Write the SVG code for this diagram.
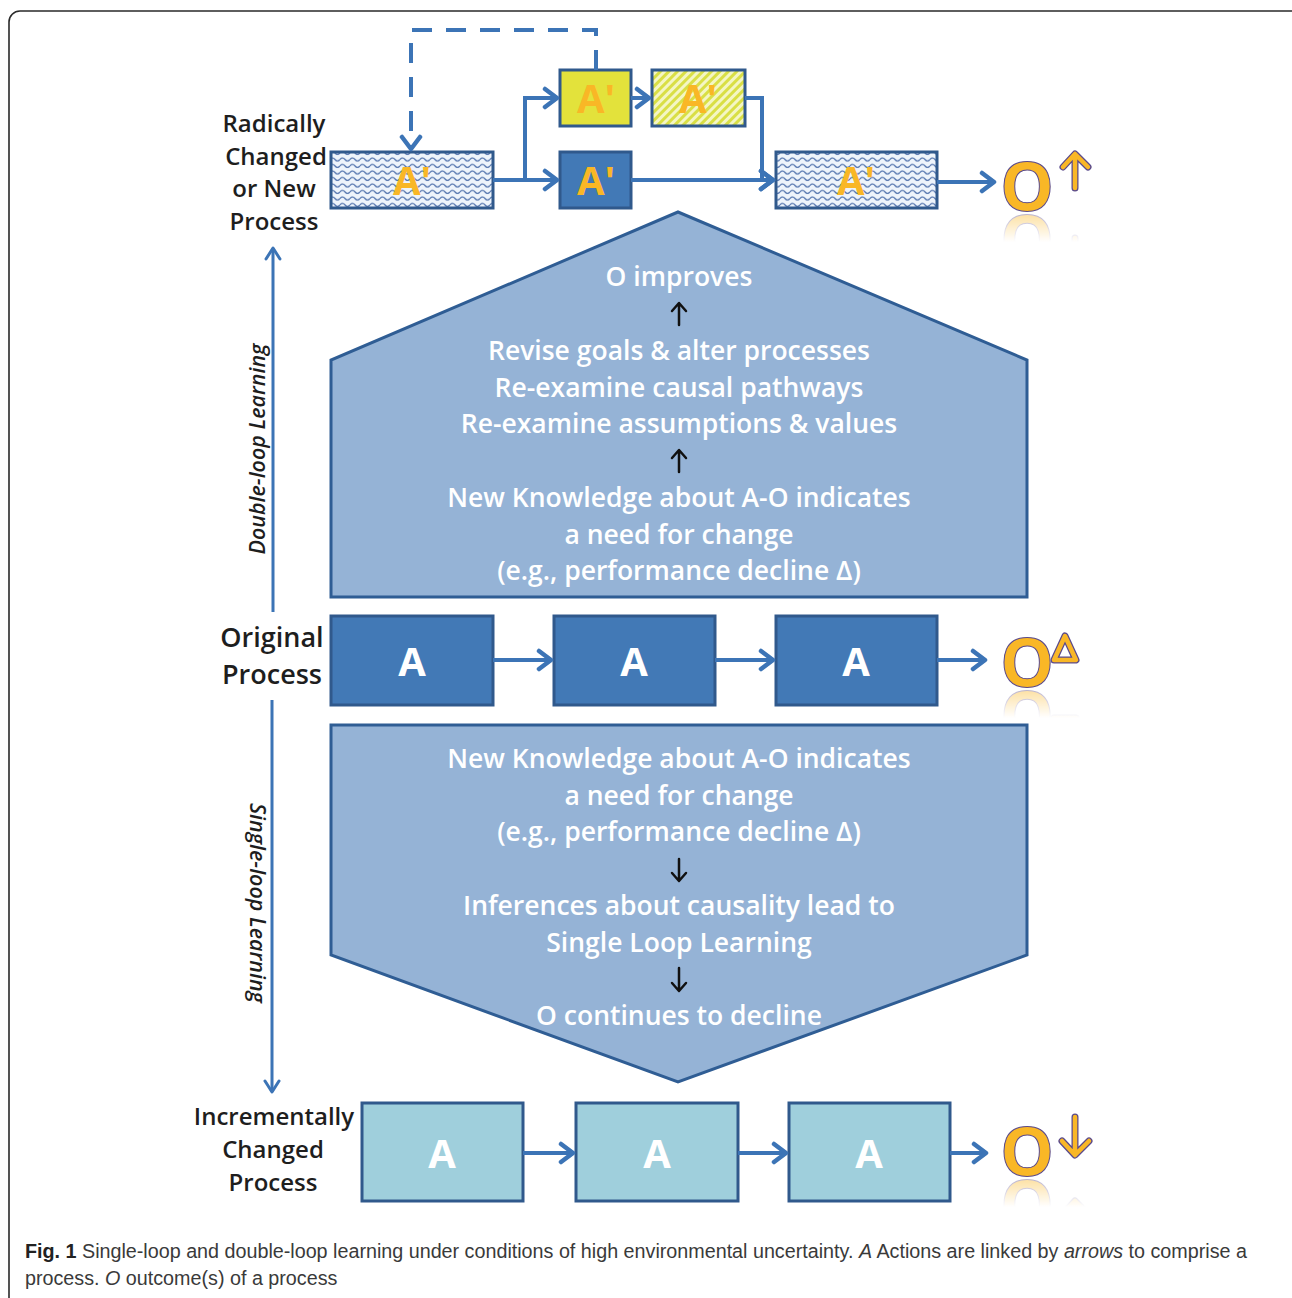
<svg xmlns="http://www.w3.org/2000/svg" width="1292" height="1298" viewBox="0 0 1292 1298">
<style>
.lbl{font-family:"Open Sans","DejaVu Sans",sans-serif;font-weight:600;fill:#1e1e1e;text-anchor:middle}
.pt{font-family:"Open Sans","DejaVu Sans",sans-serif;font-weight:600;fill:#ffffff;font-size:26.5px;text-anchor:middle}
.ax{font-family:"Open Sans","DejaVu Sans",sans-serif;font-weight:700;font-size:40px;text-anchor:middle}
.ow{fill:#ffffff}
.oy{fill:#f9b726}
.box{stroke:#30598c;stroke-width:3}
.conn{fill:none;stroke:#3c74b6;stroke-width:4}
.vl{fill:none;stroke:#3c74b6;stroke-width:3}
.blk{fill:none;stroke:#111;stroke-width:2.5;stroke-linecap:round;stroke-linejoin:round}
.bigO{font-family:"Open Sans","DejaVu Sans",sans-serif;font-weight:700;font-size:68px;fill:#f9b726;stroke:#5a4a8c;stroke-width:1;text-anchor:middle}
.symO{fill:none;stroke:#5a4a8c;stroke-width:7;stroke-linecap:round;stroke-linejoin:round}
.symI{fill:none;stroke:#f9b726;stroke-width:4.5;stroke-linecap:round;stroke-linejoin:round}
.cap{font-family:"Liberation Sans","Arial",sans-serif;font-size:21px;fill:#3a3a3a}
.rot{font-family:"Open Sans","DejaVu Sans",sans-serif;font-weight:600;font-style:italic;font-size:21.5px;fill:#1e1e1e;text-anchor:middle}
</style>
<defs>
<pattern id="wave" patternUnits="userSpaceOnUse" width="10" height="6.5">
<rect width="10" height="6.5" fill="#eef4fb"/>
<path d="M0,3.5 Q2.5,0.5 5,3.5 T10,3.5" fill="none" stroke="#4c6eaa" stroke-width="1.2"/>
</pattern>
<pattern id="hatch" patternUnits="userSpaceOnUse" width="6" height="6" patternTransform="rotate(45)">
<rect width="6" height="6" fill="#f4f6c4"/>
<rect width="3" height="6" fill="#d9df45"/>
</pattern>
<marker id="ah" markerUnits="userSpaceOnUse" markerWidth="18" markerHeight="24" viewBox="0 0 18 24" refX="16" refY="12" orient="auto">
<path d="M3,3 L15,12 L3,21" fill="none" stroke="#3c74b6" stroke-width="4.5" stroke-linecap="round" stroke-linejoin="round"/>
</marker>
<marker id="ahs" markerUnits="userSpaceOnUse" markerWidth="16" markerHeight="18" viewBox="0 0 16 18" refX="14" refY="9" orient="auto">
<path d="M3,2 L14,9 L3,16" fill="none" stroke="#3c74b6" stroke-width="3" stroke-linecap="round" stroke-linejoin="round"/>
</marker>
<linearGradient id="fade" x1="0" y1="0" x2="0" y2="1">
<stop offset="0" stop-color="#fff" stop-opacity="0.45"/>
<stop offset="1" stop-color="#fff" stop-opacity="0"/>
</linearGradient>
<mask id="m1" maskUnits="userSpaceOnUse" x="990" y="210" width="120" height="40"><rect x="990" y="212" width="120" height="30" fill="url(#fade)"/></mask>
<mask id="m2" maskUnits="userSpaceOnUse" x="990" y="686" width="120" height="40"><rect x="990" y="688" width="120" height="30" fill="url(#fade)"/></mask>
<mask id="m3" maskUnits="userSpaceOnUse" x="990" y="1175" width="120" height="40"><rect x="990" y="1177" width="120" height="30" fill="url(#fade)"/></mask>
</defs>

<rect x="9" y="11" width="1296" height="1300" rx="11" fill="#ffffff" stroke="#2a2a2a" stroke-width="1.6"/>

<!-- Left labels -->
<g id="label-radical">
<text class="lbl" font-size="24" x="274" y="132">Radically</text>
<text class="lbl" font-size="24" x="276" y="165">Changed</text>
<text class="lbl" font-size="24" x="274" y="197">or New</text>
<text class="lbl" font-size="24" x="274" y="230">Process</text>
</g>
<g id="label-original">
<text class="lbl" font-size="27" x="272" y="647">Original</text>
<text class="lbl" font-size="27" x="272" y="684">Process</text>
</g>
<g id="label-incremental">
<text class="lbl" font-size="24" x="274" y="1125">Incrementally</text>
<text class="lbl" font-size="24" x="273" y="1158">Changed</text>
<text class="lbl" font-size="24" x="273" y="1191">Process</text>
</g>
<g id="label-double">
<text class="rot" transform="translate(265,449) rotate(-90)">Double-loop Learning</text>
</g>
<g id="label-single">
<text class="rot" transform="translate(250,903) rotate(90)">Single-loop Learning</text>
</g>

<!-- Pentagons -->
<g id="double-loop-panel">
<path d="M678,212 L1027,360 L1027,597 L331,597 L331,360 Z" fill="#95b3d6" stroke="#2f5d94" stroke-width="3"/>
<text class="pt" x="679" y="286">O improves</text>
<path class="blk" d="M679,325 V304 M672,311 L679,303 L686,311"/>
<text class="pt" x="679" y="360">Revise goals &amp; alter processes</text>
<text class="pt" x="679" y="397">Re-examine causal pathways</text>
<text class="pt" x="679" y="433">Re-examine assumptions &amp; values</text>
<path class="blk" d="M679,472 V451 M672,458 L679,450 L686,458"/>
<text class="pt" x="679" y="507">New Knowledge about A-O indicates</text>
<text class="pt" x="679" y="544">a need for change</text>
<text class="pt" x="679" y="580">(e.g., performance decline Δ)</text>
</g>
<g id="single-loop-panel">
<path d="M331,725 L1027,725 L1027,955 L678,1082 L331,955 Z" fill="#95b3d6" stroke="#2f5d94" stroke-width="3"/>
<text class="pt" x="679" y="768">New Knowledge about A-O indicates</text>
<text class="pt" x="679" y="805">a need for change</text>
<text class="pt" x="679" y="841">(e.g., performance decline Δ)</text>
<path class="blk" d="M679,859 V880 M672,873 L679,881 L686,873"/>
<text class="pt" x="679" y="915">Inferences about causality lead to</text>
<text class="pt" x="679" y="952">Single Loop Learning</text>
<path class="blk" d="M679,968 V990 M672,983 L679,991 L686,983"/>
<text class="pt" x="679" y="1025">O continues to decline</text>
</g>

<!-- Top row nodes -->
<g id="r1"><rect x="331" y="152" width="162" height="56" fill="url(#wave)" class="box"/><text class="ax oy" x="412" y="195">A'</text></g>
<g id="r2"><rect x="560" y="70" width="71" height="56" fill="#e3e23b" class="box"/><text class="ax oy" x="596" y="113">A'</text></g>
<g id="r3"><rect x="652" y="70" width="93" height="56" fill="url(#hatch)" class="box"/><text class="ax oy" x="698" y="113">A'</text></g>
<g id="r4"><rect x="560" y="152" width="71" height="56" fill="#4279b6" class="box"/><text class="ax oy" x="596" y="195">A'</text></g>
<g id="r5"><rect x="776" y="152" width="161" height="56" fill="url(#wave)" class="box"/><text class="ax oy" x="856" y="195">A'</text></g>

<!-- Middle row -->
<g id="m1n"><rect x="331" y="616" width="162" height="89" fill="#4279b6" class="box"/><text class="ax ow" x="412" y="676">A</text></g>
<g id="m2n"><rect x="554" y="616" width="161" height="89" fill="#4279b6" class="box"/><text class="ax ow" x="634" y="676">A</text></g>
<g id="m3n"><rect x="776" y="616" width="161" height="89" fill="#4279b6" class="box"/><text class="ax ow" x="856" y="676">A</text></g>

<!-- Bottom row -->
<g id="b1n"><rect x="362" y="1103" width="161" height="98" fill="#9fcfdc" class="box"/><text class="ax ow" x="442" y="1168">A</text></g>
<g id="b2n"><rect x="576" y="1103" width="162" height="98" fill="#9fcfdc" class="box"/><text class="ax ow" x="657" y="1168">A</text></g>
<g id="b3n"><rect x="789" y="1103" width="161" height="98" fill="#9fcfdc" class="box"/><text class="ax ow" x="869" y="1168">A</text></g>

<!-- Outcomes -->
<g id="out-up">
<text class="bigO" x="1027" y="211">O</text>
<path class="symO" d="M1075,188 V155 M1063,167 L1075,154 L1088,167"/>
<path class="symI" d="M1075,188 V155 M1063,167 L1075,154 L1088,167"/>
</g>
<g mask="url(#m1)"><use href="#out-up" transform="translate(0,426) scale(1,-1)"/></g>
<g id="out-delta">
<text class="bigO" x="1027" y="687">O</text>
<path class="symO" d="M1065,636 L1076,660 L1054,660 Z"/>
<path class="symI" d="M1065,636 L1076,660 L1054,660 Z"/>
</g>
<g mask="url(#m2)"><use href="#out-delta" transform="translate(0,1378) scale(1,-1)"/></g>
<g id="out-down">
<text class="bigO" x="1027" y="1176">O</text>
<path class="symO" d="M1075,1117 V1154 M1062,1141 L1075,1155 L1089,1141"/>
<path class="symI" d="M1075,1117 V1154 M1062,1141 L1075,1155 L1089,1141"/>
</g>
<g mask="url(#m3)"><use href="#out-down" transform="translate(0,2356) scale(1,-1)"/></g>

<!-- Connectors -->
<g id="connectors">
<path class="conn" d="M596,70 V30 H411 V150" stroke-dasharray="20 14" marker-end="url(#ah)"/>
<path class="conn" d="M493,180 H558" marker-end="url(#ah)"/>
<path class="conn" d="M525,180 V98 H558" marker-end="url(#ah)"/>
<path class="conn" d="M631,98 H650" marker-end="url(#ah)"/>
<path class="conn" d="M745,98 H762 V180 H774" marker-end="url(#ah)"/>
<path class="conn" d="M631,180 H774" marker-end="url(#ah)"/>
<path class="conn" d="M937,182 H995" marker-end="url(#ah)"/>
<path class="conn" d="M493,660 H552" marker-end="url(#ah)"/>
<path class="conn" d="M715,660 H774" marker-end="url(#ah)"/>
<path class="conn" d="M937,660 H986" marker-end="url(#ah)"/>
<path class="conn" d="M523,1153 H574" marker-end="url(#ah)"/>
<path class="conn" d="M738,1153 H787" marker-end="url(#ah)"/>
<path class="conn" d="M950,1153 H987" marker-end="url(#ah)"/>
<path class="vl" d="M273,612 V248" marker-end="url(#ahs)"/>
<path class="vl" d="M272,700 V1092" marker-end="url(#ahs)"/>
</g>

<!-- Caption -->
<g id="caption" transform="translate(25,0) scale(0.94,1)">
<text class="cap" x="0" y="1258"><tspan font-weight="bold" fill="#222">Fig. 1</tspan> Single-loop and double-loop learning under conditions of high environmental uncertainty. <tspan font-style="italic">A</tspan> Actions are linked by <tspan font-style="italic">arrows</tspan> to comprise a</text>
<text class="cap" x="0" y="1285">process. <tspan font-style="italic">O</tspan> outcome(s) of a process</text>
</g>
</svg>
